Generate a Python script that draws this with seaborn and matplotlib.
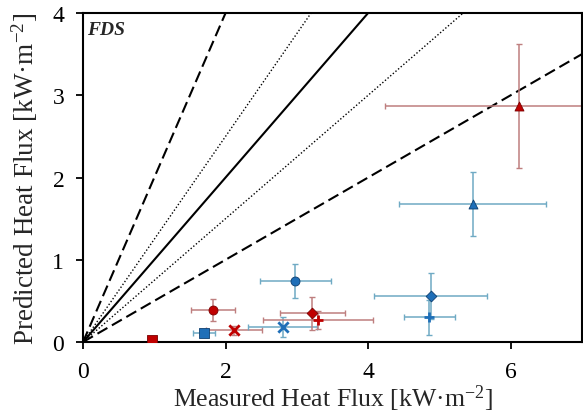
import numpy as np
import pandas as pd
import matplotlib
matplotlib.use("Agg")
import matplotlib.pyplot as plt
import seaborn as sns

# Measured vs predicted heat flux (kW/m^2) with uncertainty
measured = [0.97, 1.70, 1.82, 2.12, 2.80, 2.98, 3.22, 3.30, 6.12, 5.47, 4.88, 4.86]
predicted = [0.02, 0.11, 0.39, 0.14, 0.18, 0.74, 0.35, 0.27, 2.87, 1.68, 0.56, 0.30]
measured_err = [0.06, 0.15, 0.31, 0.39, 0.48, 0.50, 0.45, 0.77, 1.88, 1.03, 0.79, 0.36]
predicted_err = [0.02, 0.04, 0.13, 0.06, 0.12, 0.21, 0.20, 0.11, 0.75, 0.39, 0.28, 0.21]
series = ["red", "blue", "red", "red", "blue", "blue", "red", "red", "red", "blue", "blue", "blue"]
shapes = ["s", "s", "o", "x", "x", "o", "D", "+", "^", "^", "D", "+"]

# Reference lines: exact agreement, model uncertainty bands, factor-of-two bounds
line_slopes = [1.0, 1.25, 0.75, 2.0, 0.5]
line_styles = ["-", (0, (1, 1.5)), (0, (1, 1.5)), (0, (5.5, 2.5)), (0, (5.5, 2.5))]
line_widths = [1.5, 1.0, 1.0, 1.5, 1.5]

df = pd.DataFrame({
    "measured": measured, "predicted": predicted,
    "xerr": measured_err, "yerr": predicted_err,
    "series": series, "shape": shapes,
})

fill = {"red": "#C00000", "blue": "#1F6FB8"}
edge = {"red": "#7A0000", "blue": "#0E3F70"}
bar = {"red": "#BE7F7F", "blue": "#6FAAC4"}

sns.set_style("ticks")
plt.rcParams["font.family"] = ["Liberation Serif", "DejaVu Serif"]
plt.rcParams["mathtext.fontset"] = "custom"
plt.rcParams["mathtext.rm"] = "Liberation Serif"
plt.rcParams["mathtext.it"] = "Liberation Serif:italic"

fig = plt.figure(figsize=(5.83, 4.14), dpi=100)
ax = fig.add_axes([0.1424, 0.1715, 0.8556, 0.7945])

xs = np.linspace(0, 7, 200)
for s, ls, lw in zip(line_slopes, line_styles, line_widths):
    sns.lineplot(x=xs, y=s * xs, ax=ax, color="black", linestyle=ls, linewidth=lw, zorder=1)

for _, r in df.iterrows():
    ax.errorbar(r["measured"], r["predicted"], xerr=r["xerr"], yerr=r["yerr"],
                fmt="none", ecolor=bar[r["series"]], elinewidth=1.1, capsize=2.5,
                capthick=1.0, zorder=2)

for key in ["red", "blue"]:
    sub = df[df["series"] == key]
    for shp in sub["shape"].unique():
        part = sub[sub["shape"] == shp]
        if shp in ("x", "+"):
            sns.scatterplot(data=part, x="measured", y="predicted", marker=shp, s=55,
                            color=fill[key], linewidth=2.0, ax=ax, zorder=3, legend=False)
        else:
            size = 30 if shp == "D" else 42
            sns.scatterplot(data=part, x="measured", y="predicted", marker=shp, s=size,
                            color=fill[key], edgecolor=edge[key], linewidth=0.6,
                            ax=ax, zorder=3, legend=False)

ax.set_xlim(0, 7)
ax.set_ylim(0, 4)
ax.set_xticks([0, 2, 4, 6])
ax.set_yticks([0, 1, 2, 3, 4])
ax.tick_params(direction="out", length=5, width=1.3, labelsize=17, colors="black")
ax.tick_params(axis="x", pad=9)
ax.tick_params(axis="y", pad=8.5)
for sp in ax.spines.values():
    sp.set_visible(True)
    sp.set_linewidth(1.5)
    sp.set_color("black")

ax.set_xlabel(r"Measured Heat Flux [kW·m$^{\mathregular{-2}}$]", fontsize=18.5, labelpad=0)
ax.set_ylabel(r"Predicted Heat Flux [kW·m$^{\mathregular{-2}}$]", fontsize=19.5, labelpad=9)
ax.text(0.008, 0.975, "FDS", transform=ax.transAxes, ha="left", va="top",
        fontsize=14, fontweight="bold", fontstyle="italic")

fig.savefig("out.png", dpi=100)
